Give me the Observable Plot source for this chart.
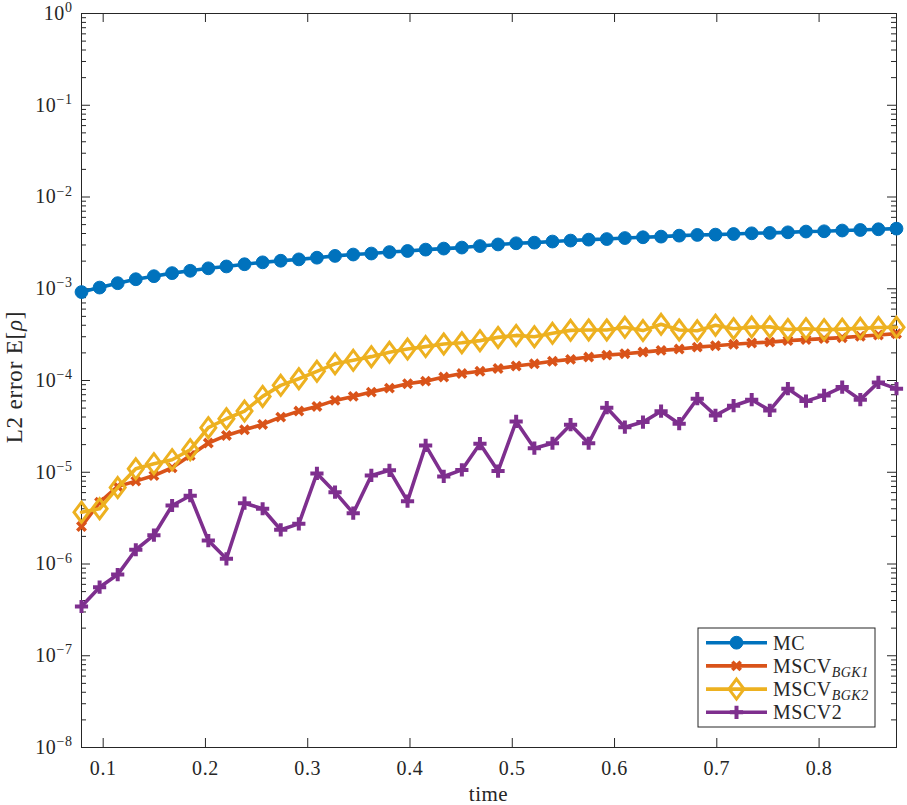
<!DOCTYPE html>
<html>
<head>
<meta charset="utf-8">
<script src="https://cdn.jsdelivr.net/npm/d3@7"></script>
<script src="https://cdn.jsdelivr.net/npm/@observablehq/plot@0.6"></script>
<style>
  html, body { margin: 0; padding: 0; background: #fff; }
  #chart svg { display: block; }
</style>
</head>
<body>
<div id="chart"></div>
<script>
// Sample times (46 snapshots)
const time = [
  0.0788, 0.0965, 0.1142, 0.1319, 0.1496, 0.1674, 0.1851, 0.2028, 0.2205, 0.2382,
  0.2559, 0.2736, 0.2913, 0.3090, 0.3267, 0.3445, 0.3622, 0.3799, 0.3976, 0.4153,
  0.4330, 0.4507, 0.4684, 0.4861, 0.5038, 0.5216, 0.5393, 0.5570, 0.5747, 0.5924,
  0.6101, 0.6278, 0.6455, 0.6632, 0.6809, 0.6987, 0.7164, 0.7341, 0.7518, 0.7695,
  0.7872, 0.8049, 0.8226, 0.8403, 0.8580, 0.8757
];

// L2 error of the density for each estimator
const errMC = [
  9.2e-4, 1.03e-3, 1.15e-3, 1.27e-3, 1.37e-3, 1.48e-3, 1.57e-3, 1.67e-3, 1.75e-3, 1.85e-3,
  1.94e-3, 2.02e-3, 2.09e-3, 2.18e-3, 2.28e-3, 2.36e-3, 2.42e-3, 2.51e-3, 2.58e-3, 2.67e-3,
  2.74e-3, 2.81e-3, 2.92e-3, 3.04e-3, 3.13e-3, 3.18e-3, 3.27e-3, 3.35e-3, 3.43e-3, 3.48e-3,
  3.57e-3, 3.64e-3, 3.70e-3, 3.79e-3, 3.86e-3, 3.89e-3, 3.95e-3, 4.02e-3, 4.06e-3, 4.12e-3,
  4.20e-3, 4.23e-3, 4.31e-3, 4.37e-3, 4.45e-3, 4.52e-3
];
const errBGK1 = [
  2.56e-6, 4.7e-6, 7.0e-6, 8.0e-6, 9.2e-6, 1.12e-5, 1.52e-5, 2.08e-5, 2.52e-5, 2.90e-5,
  3.32e-5, 3.99e-5, 4.64e-5, 5.22e-5, 6.07e-5, 6.71e-5, 7.47e-5, 8.26e-5, 9.22e-5, 9.84e-5,
  1.09e-4, 1.19e-4, 1.26e-4, 1.35e-4, 1.44e-4, 1.52e-4, 1.62e-4, 1.70e-4, 1.80e-4, 1.89e-4,
  1.96e-4, 2.04e-4, 2.13e-4, 2.20e-4, 2.31e-4, 2.39e-4, 2.48e-4, 2.56e-4, 2.62e-4, 2.72e-4,
  2.79e-4, 2.86e-4, 2.93e-4, 3.03e-4, 3.13e-4, 3.24e-4
];
const errBGK2 = [
  3.67e-6, 4.0e-6, 6.8e-6, 1.09e-5, 1.24e-5, 1.37e-5, 1.76e-5, 3.06e-5, 3.83e-5, 4.64e-5,
  6.71e-5, 8.85e-5, 1.045e-4, 1.26e-4, 1.52e-4, 1.66e-4, 1.82e-4, 2.03e-4, 2.20e-4, 2.34e-4,
  2.50e-4, 2.58e-4, 2.72e-4, 2.95e-4, 3.10e-4, 3.00e-4, 3.27e-4, 3.52e-4, 3.55e-4, 3.55e-4,
  3.80e-4, 3.50e-4, 4.10e-4, 3.55e-4, 3.48e-4, 4.00e-4, 3.67e-4, 3.82e-4, 3.84e-4, 3.60e-4,
  3.67e-4, 3.58e-4, 3.63e-4, 3.70e-4, 3.78e-4, 3.80e-4
];
const errMSCV2 = [
  3.44e-7, 5.59e-7, 7.67e-7, 1.43e-6, 2.06e-6, 4.34e-6, 5.55e-6, 1.80e-6, 1.14e-6, 4.60e-6,
  4.00e-6, 2.36e-6, 2.74e-6, 9.7e-6, 6.07e-6, 3.58e-6, 9.23e-6, 1.05e-5, 4.84e-6, 1.96e-5,
  9.0e-6, 1.06e-5, 2.05e-5, 1.03e-5, 3.58e-5, 1.83e-5, 2.07e-5, 3.30e-5, 2.07e-5, 5.05e-5,
  3.10e-5, 3.52e-5, 4.63e-5, 3.38e-5, 6.33e-5, 4.16e-5, 5.31e-5, 6.18e-5, 4.72e-5, 8.15e-5,
  5.96e-5, 6.88e-5, 8.47e-5, 6.18e-5, 9.53e-5, 8.15e-5
];

// Legend entries: base name and subscript
const seriesNames = ["MC", "MSCV", "MSCV", "MSCV2"];
const seriesSubs = ["", "BGK1", "BGK2", ""];
const seriesColors = ["#0072BD", "#D95319", "#EDB120", "#7E2F8E"];

// Axis ticks
const xTicks = [0.1, 0.2, 0.3, 0.4, 0.5, 0.6, 0.7, 0.8];
const yDecades = [-8, -7, -6, -5, -4, -3, -2, -1, 0];

const yMajor = yDecades.map(e => Math.pow(10, e));
const yMinor = yDecades.slice(0, -1).flatMap(e => d3.range(2, 10).map(k => k * Math.pow(10, e)));

// Marker shapes
const symCircle = d3.symbolCircle;
const symX = {draw(ctx, size) {
  const s = Math.sqrt(size / Math.PI);
  ctx.moveTo(-s, -s); ctx.lineTo(s, s);
  ctx.moveTo(-s, s); ctx.lineTo(s, -s);
}};
const symDiamond = {draw(ctx, size) {
  const s = Math.sqrt(size / Math.PI);
  ctx.moveTo(0, -s); ctx.lineTo(0.75 * s, 0); ctx.lineTo(0, s); ctx.lineTo(-0.75 * s, 0); ctx.closePath();
}};
const symPlus = {draw(ctx, size) {
  const s = Math.sqrt(size / Math.PI);
  ctx.moveTo(-s, 0); ctx.lineTo(s, 0);
  ctx.moveTo(0, -s); ctx.lineTo(0, s);
}};

const markerStyles = [
  {symbol: symCircle, r: 6.4, fill: seriesColors[0], stroke: seriesColors[0], strokeWidth: 1},
  {symbol: symX, r: 4.2, fill: "none", stroke: seriesColors[1], strokeWidth: 3.6},
  {symbol: symDiamond, r: 10, fill: "none", stroke: seriesColors[2], strokeWidth: 3},
  {symbol: symPlus, r: 6.6, fill: "none", stroke: seriesColors[3], strokeWidth: 4}
];

const seriesValues = [errMC, errBGK1, errBGK2, errMSCV2];
const tables = seriesValues.map(vals => time.map((t, i) => ({t, v: vals[i]})));

const W = 907, H = 805;
const mL = 81, mR = 11, mT = 13, mB = 58;
const plotW = W - mL - mR, plotH = H - mT - mB;
const axisColor = "#262626";
const serif = "'Liberation Serif', 'DejaVu Serif', serif";

const seriesMarks = tables.flatMap((data, k) => [
  Plot.line(data, {x: "t", y: "v", stroke: seriesColors[k], strokeWidth: 3.6, strokeLinejoin: "round"}),
  Plot.dot(data, {x: "t", y: "v", ...markerStyles[k]})
]);

const chart = Plot.plot({
  width: W,
  height: H,
  marginLeft: mL,
  marginRight: mR,
  marginTop: mT,
  marginBottom: mB,
  style: `font-family: ${serif}; font-size: 20px; color: ${axisColor}; background: #fff;`,
  x: {domain: [time[0], time[time.length - 1]]},
  y: {type: "log", domain: [1e-8, 1]},
  marks: [
    // inward ticks on all four sides
    Plot.tickX(xTicks, {x: d => d, insetTop: plotH - 9, stroke: axisColor}),
    Plot.tickX(xTicks, {x: d => d, insetBottom: plotH - 9, stroke: axisColor}),
    Plot.tickY(yMajor, {y: d => d, insetRight: plotW - 9, stroke: axisColor}),
    Plot.tickY(yMajor, {y: d => d, insetLeft: plotW - 9, stroke: axisColor}),
    Plot.tickY(yMinor, {y: d => d, insetRight: plotW - 5, stroke: axisColor}),
    Plot.tickY(yMinor, {y: d => d, insetLeft: plotW - 5, stroke: axisColor}),
    Plot.axisX(xTicks, {anchor: "bottom", tickSize: 0, tickPadding: 13, tickFormat: d3.format(".1f"), label: null, fill: axisColor}),
    Plot.axisY(yMajor, {anchor: "left", tickSize: 0, tickPadding: 9, tickFormat: d => "10^" + Math.round(Math.log10(d)), label: null, fill: axisColor}),
    Plot.frame({stroke: axisColor, strokeWidth: 1}),
    ...seriesMarks
  ]
});

document.getElementById("chart").append(chart);

const svg = d3.select(chart).attr("font-family", serif);

// Serif tick labels at the same size as the legend
svg.selectAll('g[aria-label="x-axis tick label"], g[aria-label="y-axis tick label"]')
  .style("font-family", serif)
  .style("font-size", "20px")
  .style("font-variant", "normal")
  .style("letter-spacing", "0.6px");

// Power-of-ten labels with raised exponents
svg.selectAll('g[aria-label="y-axis tick label"] text').each(function () {
  const el = d3.select(this);
  const [base, exp] = el.text().split("^");
  el.text(null);
  el.append("tspan").text(base);
  el.append("tspan").attr("dy", "-0.55em").style("font-size", "14px").text(exp.replace("-", "\u2212"));
});

// Axis titles
svg.append("text")
  .attr("x", mL + plotW / 2)
  .attr("y", 801)
  .attr("text-anchor", "middle")
  .attr("font-size", 21)
  .attr("letter-spacing", "0.5px")
  .attr("fill", axisColor)
  .text("time");

const yTitle = svg.append("text")
  .attr("transform", `translate(22,${mT + plotH / 2 - 3}) rotate(-90)`)
  .attr("text-anchor", "middle")
  .attr("font-size", 23)
  .attr("letter-spacing", "0.8px")
  .attr("fill", axisColor);
yTitle.append("tspan").text("L2 error E[");
yTitle.append("tspan").attr("font-style", "italic").text("\u03C1");
yTitle.append("tspan").text("]");

// Legend box
const lg = svg.append("g").attr("transform", "translate(698,628)");
lg.append("rect").attr("width", 177).attr("height", 99)
  .attr("fill", "#fff").attr("stroke", axisColor).attr("stroke-width", 1);
seriesNames.forEach((name, k) => {
  const y = 14.7 + k * 23.2;
  lg.append("line").attr("x1", 8).attr("x2", 69).attr("y1", y).attr("y2", y)
    .attr("stroke", seriesColors[k]).attr("stroke-width", 3.6);
  const ms = markerStyles[k];
  lg.append("path")
    .attr("transform", `translate(38.5,${y})`)
    .attr("d", d3.symbol().type(ms.symbol).size(ms.r * ms.r * Math.PI)())
    .attr("fill", ms.fill).attr("stroke", ms.stroke).attr("stroke-width", ms.strokeWidth);
  const t = lg.append("text").attr("x", 75).attr("y", y + 6.8)
    .attr("text-anchor", "start")
    .attr("letter-spacing", "0.5px")
    .attr("font-size", 20).attr("fill", axisColor);
  t.append("tspan").text(name);
  if (seriesSubs[k]) {
    t.append("tspan").attr("dy", "0.3em").attr("font-size", "14px").attr("font-style", "italic").text(seriesSubs[k]);
  }
});
</script>
</body>
</html>
